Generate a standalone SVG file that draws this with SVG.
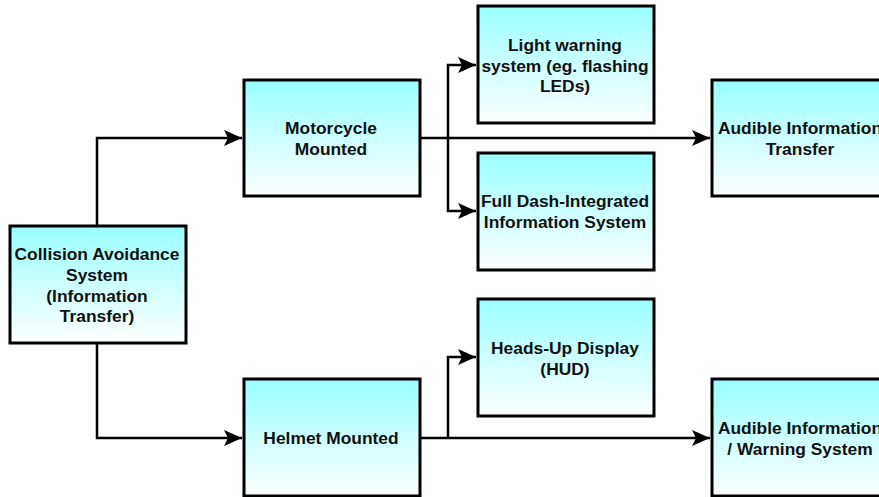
<svg xmlns="http://www.w3.org/2000/svg" width="879" height="497" viewBox="0 0 879 497">
<defs>
<linearGradient id="g" x1="0" y1="0" x2="0" y2="1">
<stop offset="0" stop-color="#99FFFF"/>
<stop offset="1" stop-color="#FFFFFF"/>
</linearGradient>
<marker id="ah" markerUnits="userSpaceOnUse" markerWidth="20" markerHeight="18" refX="18" refY="9" orient="auto">
<path d="M0,1 L18,9 L0,17 L4,9 Z" fill="#000"/>
</marker>
<style>
.box{fill:url(#g);stroke:#000;stroke-width:3}
.t{font-family:"Liberation Sans",Arial,sans-serif;font-weight:bold;font-size:17.4px;text-anchor:middle;fill:#111}
.c{fill:none;stroke:#000;stroke-width:2.5}
</style>
</defs>
<rect width="879" height="497" fill="#fff"/>
<g id="connectors">
<path class="c" d="M97,226 V138 H242" marker-end="url(#ah)"/>
<path class="c" d="M97,343 V438 H242" marker-end="url(#ah)"/>
<path class="c" d="M420,138 H710" marker-end="url(#ah)"/>
<path class="c" d="M448,138 V65 H476" marker-end="url(#ah)"/>
<path class="c" d="M448,138 V211 H476" marker-end="url(#ah)"/>
<path class="c" d="M420,438 H710" marker-end="url(#ah)"/>
<path class="c" d="M448,438 V357 H476" marker-end="url(#ah)"/>
</g>
<g id="collision">
<rect class="box" x="10" y="226" width="176" height="117"/>
<text class="t" x="97"><tspan x="97" y="260">Collision Avoidance</tspan><tspan x="97" y="281">System</tspan><tspan x="97" y="302">(Information</tspan><tspan x="97" y="322">Transfer)</tspan></text>
</g>
<g id="motorcycle">
<rect class="box" x="244" y="80" width="176" height="116"/>
<text class="t"><tspan x="331" y="134">Motorcycle</tspan><tspan x="331" y="155">Mounted</tspan></text>
</g>
<g id="helmet">
<rect class="box" x="244" y="379" width="176" height="117"/>
<text class="t" x="331" y="444">Helmet Mounted</text>
</g>
<g id="light">
<rect class="box" x="478" y="6" width="176" height="117"/>
<text class="t"><tspan x="565" y="51">Light warning</tspan><tspan x="565" y="72">system (eg. flashing</tspan><tspan x="565" y="92">LEDs)</tspan></text>
</g>
<g id="dash">
<rect class="box" x="478" y="153" width="176" height="117"/>
<text class="t"><tspan x="565" y="207">Full Dash-Integrated</tspan><tspan x="565" y="228">Information System</tspan></text>
</g>
<g id="hud">
<rect class="box" x="478" y="299" width="176" height="117"/>
<text class="t"><tspan x="565" y="354">Heads-Up Display</tspan><tspan x="565" y="375">(HUD)</tspan></text>
</g>
<g id="audible1">
<rect class="box" x="712" y="80" width="176" height="116"/>
<text class="t"><tspan x="800" y="134">Audible Information</tspan><tspan x="800" y="155">Transfer</tspan></text>
</g>
<g id="audible2">
<rect class="box" x="712" y="379" width="176" height="117"/>
<text class="t"><tspan x="800" y="434">Audible Information</tspan><tspan x="800" y="455">/ Warning System</tspan></text>
</g>
</svg>
